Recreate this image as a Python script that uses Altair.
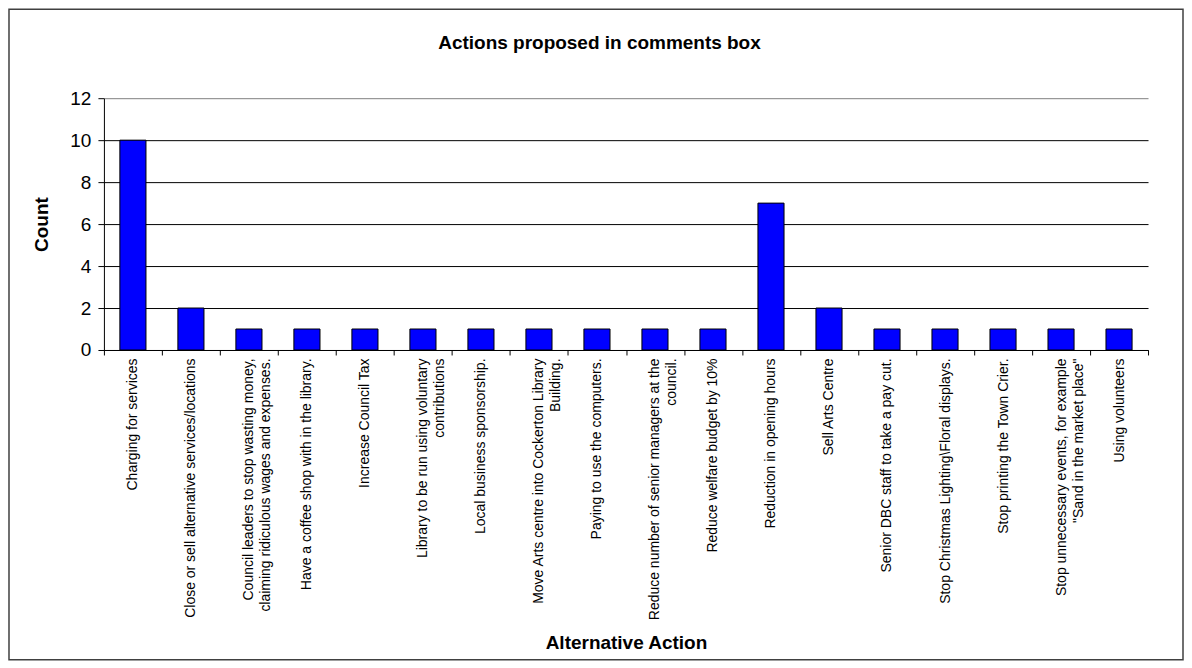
import altair as alt
import pandas as pd

# ---- data ----
categories = [
    "Charging for services",
    "Close or sell alternative services/locations",
    "Council leaders to stop wasting money,|claiming ridiculous wages and expenses.",
    "Have a coffee shop with in the library.",
    "Increase Council Tax",
    "Library to be run using voluntary|contributions",
    "Local business sponsorship.",
    "Move Arts centre into Cockerton Library|Building.",
    "Paying to use the computers.",
    "Reduce number of senior managers at the|council.",
    "Reduce welfare budget by 10%",
    "Reduction in opening hours",
    "Sell Arts Centre",
    "Senior DBC staff to take a pay cut.",
    "Stop Christmas Lighting\\Floral displays.",
    "Stop printing the Town Crier.",
    "Stop unnecessary events, for example|\"Sand in the market place\"",
    "Using volunteers",
]
counts = [10, 2, 1, 1, 1, 1, 1, 1, 1, 1, 1, 7, 2, 1, 1, 1, 1, 1]
y_ticks = [0, 2, 4, 6, 8, 10, 12]

chart_title = "Actions proposed in comments box"
x_title = "Alternative Action"
y_title = "Count"

FONT = "Liberation Sans"
W, H = 1045, 252

df = pd.DataFrame({"action": categories, "count": counts})

bars = alt.Chart(df).mark_bar(
    color="#0000FF", stroke="black", strokeWidth=1,
    width=alt.RelativeBandSize(0.45),
).encode(
    x=alt.X("action:N", sort=None,
            scale=alt.Scale(paddingInner=0, paddingOuter=0),
            axis=alt.Axis(
                title=x_title, labelAngle=270,
                labelExpr="split(datum.label, '|')",
                labelFontSize=14, labelLineHeight=17, labelLimit=500,
                labelColor="black", labelPadding=3,
                tickBand="extent", tickSize=5, tickColor="black",
                domainColor="black", grid=False,
                titleFontSize=19, titleFontWeight="bold", titleColor="black",
                titleY=299, titleBaseline="alphabetic",
            )),
    y=alt.Y("count:Q",
            scale=alt.Scale(domain=[0, 12], nice=False),
            axis=alt.Axis(
                title=y_title, values=y_ticks,
                labelFontSize=19, labelColor="black", labelPadding=7,
                tickSize=6, tickColor="black", domainColor="black",
                grid=True,
                gridColor=alt.condition(alt.datum.value == 12,
                                        alt.value("#808080"),
                                        alt.value("black")),
                titleFontSize=19, titleFontWeight="bold", titleColor="black",
                titleAngle=270, titleX=-56, titleY=H / 2,
                titleBaseline="alphabetic",
            )),
)

title_mark = alt.Chart(pd.DataFrame({"t": [chart_title]})).mark_text(
    fontSize=19, fontWeight="bold", color="black",
    align="center", baseline="alphabetic",
).encode(text="t:N", x=alt.value(496), y=alt.value(-49))

frame = alt.Chart(pd.DataFrame({"a": [0]})).mark_rect(
    fillOpacity=0, stroke="#404040", strokeWidth=1.5,
).encode(x=alt.value(-95), x2=alt.value(1080),
         y=alt.value(-89), y2=alt.value(562))

chart = alt.layer(frame, bars, title_mark).properties(
    width=W, height=H, padding=0, background="white",
).configure(font=FONT).configure_view(strokeWidth=0)

chart.save("out.html", embed_options={"renderer": "svg", "actions": False})
